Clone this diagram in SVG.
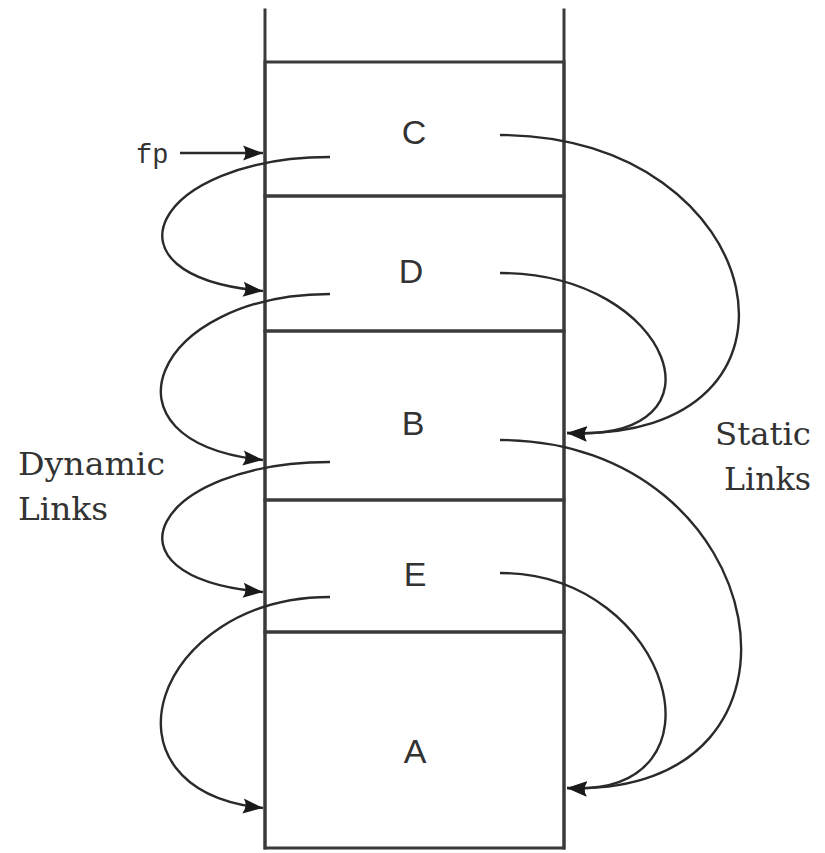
<svg xmlns="http://www.w3.org/2000/svg" width="825" height="853" viewBox="0 0 825 853">
  <style>
    .wall { stroke: #3a3a3a; stroke-width: 3; fill: none; stroke-linecap: square; }
    .frame { fill: none; stroke: #3a3a3a; stroke-width: 3; }
    .name { font-family: "Liberation Sans", "DejaVu Sans", sans-serif; font-size: 34px; fill: #333; text-anchor: middle; }
    .link { fill: none; stroke: #2a2a2a; stroke-width: 2.4; marker-end: url(#tip); }
    .cap { font-family: "DejaVu Serif", "Liberation Serif", serif; font-size: 32px; fill: #333; }
    .mono { font-family: "Liberation Mono", "DejaVu Sans Mono", monospace; font-size: 27px; fill: #333; }
  </style>
  <defs>
    <marker id="tip" markerUnits="userSpaceOnUse" markerWidth="22" markerHeight="16" refX="20" refY="8" orient="auto">
      <path d="M0,0.5 L20,8 L0,15.5 Q5,8 0,0.5 Z" fill="#1a1a1a"/>
    </marker>
  </defs>

  <rect width="825" height="853" fill="#ffffff"/>

  <!-- stack walls -->
  <g id="stack">
    <line class="wall" x1="265" y1="10" x2="265" y2="848"/>
    <line class="wall" x1="564" y1="10" x2="564" y2="848"/>
  </g>

  <!-- activation records -->
  <g id="frame-C">
    <rect class="frame" x="265" y="62" width="299" height="134"/>
    <text class="name" x="414" y="144">C</text>
  </g>
  <g id="frame-D">
    <rect class="frame" x="265" y="196" width="299" height="135"/>
    <text class="name" x="411" y="283">D</text>
  </g>
  <g id="frame-B">
    <rect class="frame" x="265" y="331" width="299" height="169"/>
    <text class="name" x="413" y="435">B</text>
  </g>
  <g id="frame-E">
    <rect class="frame" x="265" y="500" width="299" height="132"/>
    <text class="name" x="415" y="586">E</text>
  </g>
  <g id="frame-A">
    <rect class="frame" x="265" y="632" width="299" height="216"/>
    <text class="name" x="415" y="763">A</text>
  </g>

  <!-- frame pointer -->
  <g id="fp">
    <text class="mono" x="136" y="163">fp</text>
  </g>

  <!-- captions -->
  <g id="dynamic-label">
    <text class="cap" x="18" y="475" textLength="147" lengthAdjust="spacingAndGlyphs">Dynamic</text>
    <text class="cap" x="18" y="520" textLength="90" lengthAdjust="spacingAndGlyphs">Links</text>
  </g>
  <g id="static-label">
    <text class="cap" x="715" y="445" textLength="96" lengthAdjust="spacingAndGlyphs">Static</text>
    <text class="cap" x="724" y="490" textLength="87" lengthAdjust="spacingAndGlyphs">Links</text>
  </g>

  <!-- links between records -->
  <g id="connectors">
    <line class="link" x1="180" y1="153" x2="263" y2="153"/>
    <!-- dynamic links -->
    <path class="link" d="M330,157 C155,157 92,276 263,291"/>
    <path class="link" d="M330,294 C153,294 90,442 263,460"/>
    <path class="link" d="M330,462 C155,462 92,577 263,592"/>
    <path class="link" d="M330,597 C153,597 90,790 263,808"/>
    <!-- static links -->
    <path class="link" d="M500,135 C772,135 835,443 567,433"/>
    <path class="link" d="M500,273 C672,273 735,443 567,433"/>
    <path class="link" d="M500,440 C775,440 838,798 567,788"/>
    <path class="link" d="M500,573 C672,573 735,798 567,788"/>
  </g>
</svg>
